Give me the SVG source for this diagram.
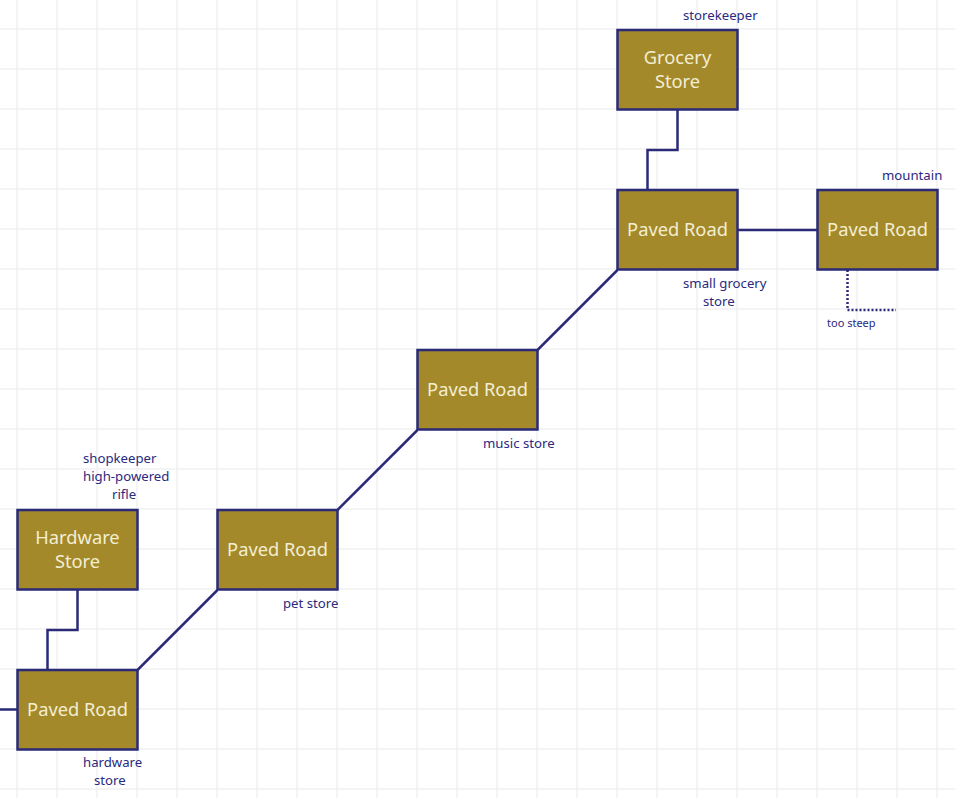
<svg xmlns="http://www.w3.org/2000/svg" width="955" height="798" viewBox="0 0 955 798">
<style>
.grid line{stroke:#f1f1f1;stroke-width:1.5}
.node rect{fill:#a3892a;stroke:#2a2a78;stroke-width:2.5}
.node text{fill:#f3eed3;font-family:"Noto Sans",sans-serif;font-size:18.3px;text-anchor:middle}
.edge{fill:none;stroke:#2a2a78;stroke-width:2.5}
.dot{fill:none;stroke:#2a2a78;stroke-width:2.5;stroke-dasharray:2 2}
.lbl{fill:#2a2a80;font-family:"Noto Sans",sans-serif;font-size:13.2px}
.sm{fill:#2a2a80;font-family:"Noto Sans",sans-serif;font-size:11px}
</style>
<rect width="955" height="798" fill="#ffffff"/>
<g class="grid">
<line x1="17" y1="0" x2="17" y2="798"/><line x1="57" y1="0" x2="57" y2="798"/><line x1="97" y1="0" x2="97" y2="798"/><line x1="137" y1="0" x2="137" y2="798"/><line x1="177" y1="0" x2="177" y2="798"/><line x1="217" y1="0" x2="217" y2="798"/><line x1="257" y1="0" x2="257" y2="798"/><line x1="297" y1="0" x2="297" y2="798"/><line x1="337" y1="0" x2="337" y2="798"/><line x1="377" y1="0" x2="377" y2="798"/><line x1="417" y1="0" x2="417" y2="798"/><line x1="457" y1="0" x2="457" y2="798"/><line x1="497" y1="0" x2="497" y2="798"/><line x1="537" y1="0" x2="537" y2="798"/><line x1="577" y1="0" x2="577" y2="798"/><line x1="617" y1="0" x2="617" y2="798"/><line x1="657" y1="0" x2="657" y2="798"/><line x1="697" y1="0" x2="697" y2="798"/><line x1="737" y1="0" x2="737" y2="798"/><line x1="777" y1="0" x2="777" y2="798"/><line x1="817" y1="0" x2="817" y2="798"/><line x1="857" y1="0" x2="857" y2="798"/><line x1="897" y1="0" x2="897" y2="798"/><line x1="937" y1="0" x2="937" y2="798"/>
<line x1="0" y1="29" x2="955" y2="29"/><line x1="0" y1="69" x2="955" y2="69"/><line x1="0" y1="109" x2="955" y2="109"/><line x1="0" y1="149" x2="955" y2="149"/><line x1="0" y1="189" x2="955" y2="189"/><line x1="0" y1="229" x2="955" y2="229"/><line x1="0" y1="269" x2="955" y2="269"/><line x1="0" y1="309" x2="955" y2="309"/><line x1="0" y1="349" x2="955" y2="349"/><line x1="0" y1="389" x2="955" y2="389"/><line x1="0" y1="429" x2="955" y2="429"/><line x1="0" y1="469" x2="955" y2="469"/><line x1="0" y1="509" x2="955" y2="509"/><line x1="0" y1="549" x2="955" y2="549"/><line x1="0" y1="589" x2="955" y2="589"/><line x1="0" y1="629" x2="955" y2="629"/><line x1="0" y1="669" x2="955" y2="669"/><line x1="0" y1="709" x2="955" y2="709"/><line x1="0" y1="749" x2="955" y2="749"/><line x1="0" y1="789" x2="955" y2="789"/>
</g>
<g id="connectors">
<path class="edge" d="M677.5,110 V150 H647.5 V190"/>
<path class="edge" d="M737.5,230 H817.5"/>
<path class="dot" d="M847.5,270 V310 H896"/>
<path class="edge" d="M617.5,270 L537.5,350"/>
<path class="edge" d="M417.5,430 L337.5,510"/>
<path class="edge" d="M217.5,590 L137.5,670"/>
<path class="edge" d="M77.5,590 V630 H47.5 V670"/>
<path class="edge" d="M0,709.5 H17.5"/>
</g>
<g id="grocery-store" class="node"><rect x="617.5" y="30" width="120" height="79.5"/><text x="677.5" y="64">Grocery</text><text x="677.5" y="88">Store</text></g>
<g id="paved-road-grocery" class="node"><rect x="617.5" y="190" width="120" height="79.5"/><text x="677.5" y="236">Paved Road</text></g>
<g id="paved-road-mountain" class="node"><rect x="817.5" y="190" width="120" height="79.5"/><text x="877.5" y="236">Paved Road</text></g>
<g id="paved-road-music" class="node"><rect x="417.5" y="350" width="120" height="79.5"/><text x="477.5" y="396">Paved Road</text></g>
<g id="paved-road-pet" class="node"><rect x="217.5" y="510" width="120" height="79.5"/><text x="277.5" y="556">Paved Road</text></g>
<g id="hardware-store" class="node"><rect x="17.5" y="510" width="120" height="79.5"/><text x="77.5" y="544">Hardware</text><text x="77.5" y="568">Store</text></g>
<g id="paved-road-hardware" class="node"><rect x="17.5" y="670" width="120" height="79.5"/><text x="77.5" y="716">Paved Road</text></g>
<g id="labels">
<text class="lbl" x="683" y="20">storekeeper</text>
<text class="lbl" x="882" y="180">mountain</text>
<text class="lbl" x="683" y="288">small grocery</text>
<text class="lbl" x="703" y="306">store</text>
<text class="sm" x="827" y="327">too steep</text>
<text class="lbl" x="483" y="448">music store</text>
<text class="lbl" x="283" y="608">pet store</text>
<text class="lbl" x="83" y="463">shopkeeper</text>
<text class="lbl" x="83" y="481">high-powered</text>
<text class="lbl" x="112" y="499">rifle</text>
<text class="lbl" x="83" y="767">hardware</text>
<text class="lbl" x="94" y="785">store</text>
</g>
</svg>
